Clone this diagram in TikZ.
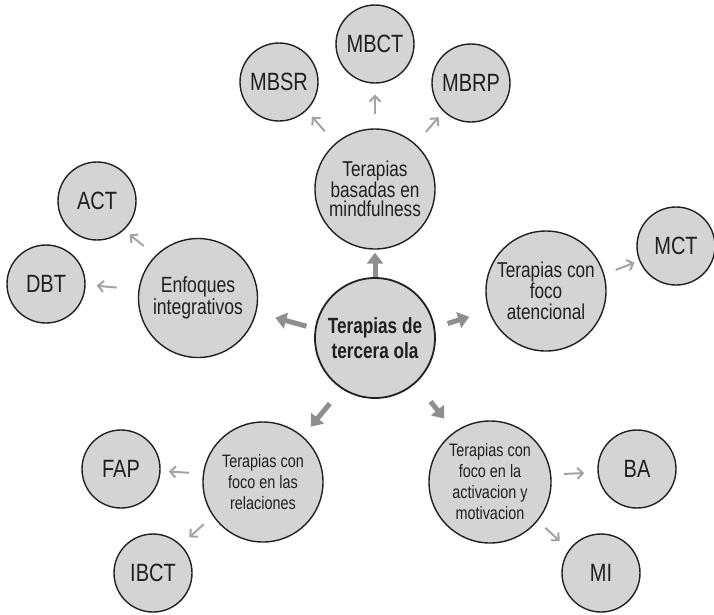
\documentclass[tikz,border=0pt]{standalone}
\usepackage{fontspec}
\setmainfont[FakeStretch=0.8]{Liberation Sans}
\newfontfamily\boldnarrow[FakeStretch=0.78]{Liberation Sans Bold}
\usetikzlibrary{arrows.meta}

\definecolor{bubblefill}{HTML}{D4D4D4}
\definecolor{ink}{HTML}{231F20}
\definecolor{bigarrowgray}{HTML}{8E8E8E}
\definecolor{smallarrowgray}{HTML}{A3A3A3}

\tikzset{
  bubble/.style={circle, draw=ink, fill=bubblefill, line width=1.4pt,
    inner sep=0pt, text=ink, align=center},
  leaf/.style={bubble, minimum size=78pt, font=\fontsize{25}{28}\selectfont},
  branch/.style={bubble, minimum size=120pt},
  hub/.style={bubble, minimum size=120pt, line width=1.8pt,
    font=\boldnarrow\fontsize{22}{25}\selectfont},
  bigarr/.style={draw=bigarrowgray, line width=5pt,
    -{Triangle[width=16pt,length=11pt]}},
  smallarr/.style={draw=smallarrowgray, line width=2pt,
    -{Straight Barb[width=11pt,length=5.5pt]}}
}

\begin{document}
\begin{tikzpicture}[x=1pt,y=-1pt]
\path[use as bounding box] (0,0) rectangle (714,614);

% central hub
\node[hub] (C) at (375,338) {Terapias de\\tercera ola};

% branches
\node[branch, font=\fontsize{21.5}{19.5}\selectfont] (M) at (375,189)
  {Terapias\\basadas en\\mindfulness};
\node[branch, minimum size=119pt, font=\fontsize{22}{20}\selectfont] (E) at (198,298)
  {Enfoques\\integrativos};
\node[branch, font=\fontsize{21.5}{21}\selectfont] (A) at (546,291)
  {Terapias con\\foco\\atencional};
\node[branch, font=\fontsize{18}{21}\selectfont] (R) at (263,482)
  {Terapias con\\foco en las\\relaciones};
\node[branch, minimum size=122pt, font=\fontsize{18}{21}\selectfont] (V) at (490,482)
  {Terapias con\\foco en la\\activacion y\\motivacion};

% leaves
\node[leaf] (mbct) at (375,44) {MBCT};
\node[leaf] (mbsr) at (279,82) {MBSR};
\node[leaf] (mbrp) at (471,83) {MBRP};
\node[leaf] (act)  at (97,201) {ACT};
\node[leaf] (dbt)  at (46,284) {DBT};
\node[leaf] (mct)  at (676,246) {MCT};
\node[leaf] (fap)  at (121,469) {FAP};
\node[leaf] (ibct) at (153,573) {IBCT};
\node[leaf] (ba)   at (637,469) {BA};
\node[leaf] (mi)   at (601,573) {MI};

% hub to branches
\draw[bigarr, shorten >=3pt] (C.90) -- (M.-90);
\draw[bigarr, shorten <=8.7pt, shorten >=19.6pt] (C.171.6) -- (E.-14.6);
\draw[bigarr, shorten <=13.2pt, shorten >=20.3pt] (C.10.2) -- (A.-161.3);
\draw[bigarr, shorten <=18.8pt, shorten >=12.3pt] (C.-123.1) -- (R.49.5);
\draw[bigarr, shorten <=23.6pt, shorten >=16.4pt] (C.-48.9) -- (V.125.5);

% branches to leaves
\draw[smallarr, shorten <=14pt, shorten >=11pt] (M.90) -- (mbct.-90);
\draw[smallarr, shorten <=15.8pt, shorten >=8.1pt] (M.131.3) -- (mbsr.-46.7);
\draw[smallarr, shorten <=15.8pt, shorten >=7.4pt] (M.48.7) -- (mbrp.-134.1);
\draw[smallarr, shorten <=15pt, shorten >=7pt] (E.135) -- (act.-47.6);
\draw[smallarr, shorten <=21.7pt, shorten >=11pt] (E.172.3) -- (dbt.-1.1);
\draw[smallarr, shorten <=12.1pt, shorten >=5pt] (A.16.9) -- (mct.-158.7);
\draw[smallarr, shorten <=13.7pt, shorten >=8.1pt] (R.172.2) -- (fap.-3.7);
\draw[smallarr, shorten <=12.1pt, shorten >=11.2pt] (R.-146.3) -- (ibct.45.8);
\draw[smallarr, shorten <=12.6pt, shorten >=13.2pt] (V.7) -- (ba.-175.6);
\draw[smallarr, shorten <=10.1pt, shorten >=12.6pt] (V.-39.3) -- (mi.144.5);
\end{tikzpicture}
\end{document}
